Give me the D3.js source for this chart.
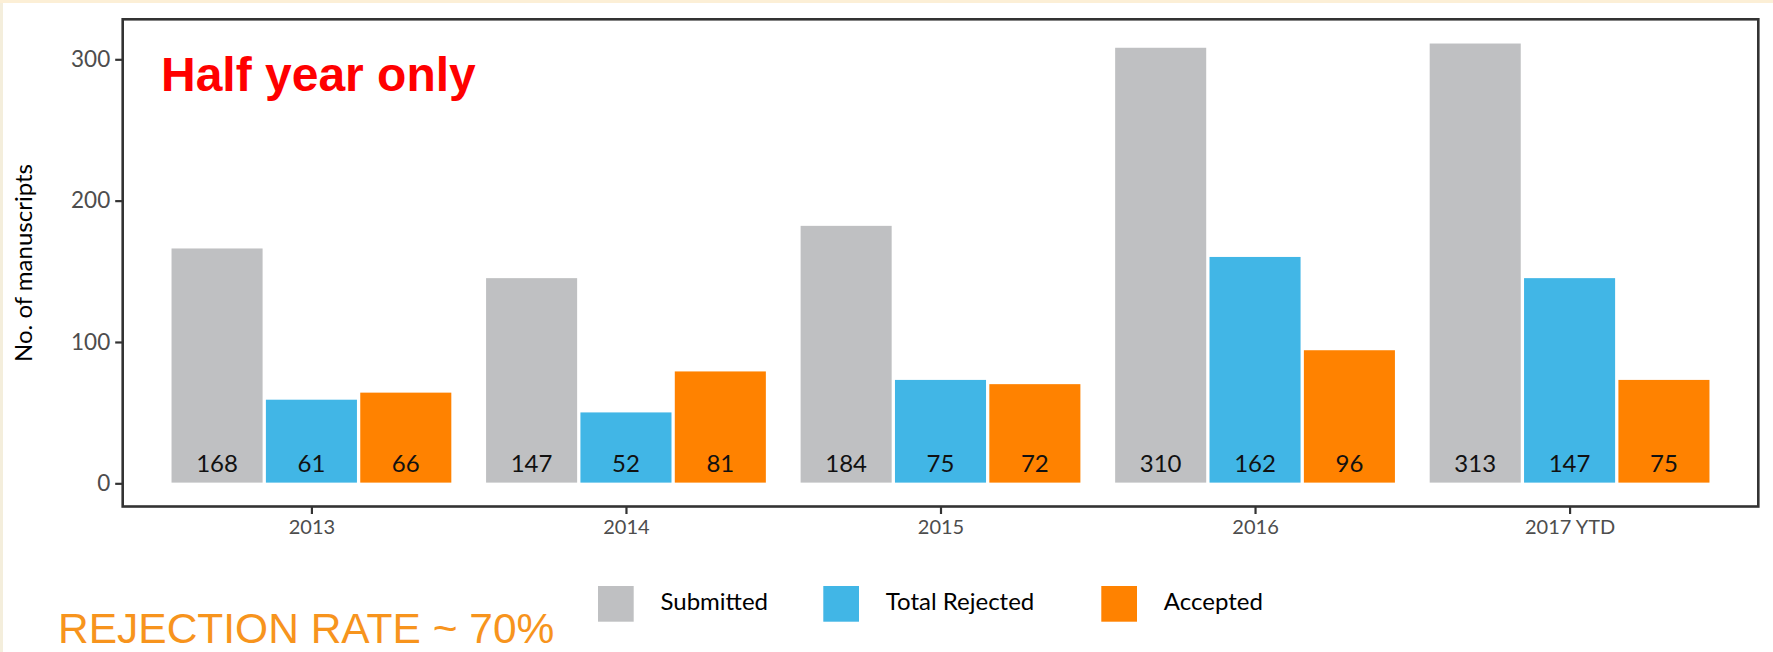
<!DOCTYPE html>
<html>
<head>
<meta charset="utf-8">
<script src="https://cdn.jsdelivr.net/npm/d3@7"></script>
<style>
  html, body { margin: 0; padding: 0; background: #FCEFD6; }
  svg { display: block; }
</style>
</head>
<body>
<svg id="chart" width="1773" height="652"></svg>
<script>
// ---- data ----
const categories = ["2013", "2014", "2015", "2016", "2017 YTD"];
const seriesNames = ["Submitted", "Total Rejected", "Accepted"];
const submitted = [168, 147, 184, 310, 313];
const rejected = [61, 52, 75, 162, 147];
const accepted = [66, 81, 72, 96, 75];
const yTicks = [0, 100, 200, 300];
const seriesColors = ["#BFC0C2", "#41B6E6", "#FF8200"];
const yTitle = "No. of manuscripts";
const noteText = "Half year only";
const rateText = "REJECTION RATE ~ 70%";

const seriesValues = [submitted, rejected, accepted];

const svg = d3.select("#chart");

// cream border (top and left) with white panel
svg.append("rect").attr("x", 0).attr("y", 0).attr("width", 1773).attr("height", 652).attr("fill", "#F4EEDC");
svg.append("rect").attr("x", 0).attr("y", 0).attr("width", 1773).attr("height", 3).attr("fill", "#FCEFD6");
svg.append("rect").attr("x", 3).attr("y", 3).attr("width", 1770).attr("height", 649).attr("fill", "#FFFFFF");

const plot = { left: 122.7, right: 1758.3, top: 19.3, bottom: 506.5 };

const x = d3.scalePoint()
  .domain(categories)
  .range([plot.left, plot.right])
  .padding(0.6);

const step = x.step();
const xs = d3.scaleBand()
  .domain(seriesNames)
  .range([-0.45 * step, 0.45 * step])
  .padding(0);

const y = d3.scaleLinear()
  .domain([-16.4, 328.3])
  .range([plot.bottom, plot.top]);

// bars
const rows = [];
categories.forEach((c, i) => {
  seriesNames.forEach((s, j) => {
    rows.push({ cat: c, series: s, value: seriesValues[j][i], color: seriesColors[j] });
  });
});

// white outline around each bar (as in the reference) trims the edges
const insetX = 1.65, insetTop = 2.6, insetBottom = 0.7;
const g = svg.append("g");
g.selectAll("rect.bar")
  .data(rows)
  .enter().append("rect")
  .attr("class", "bar")
  .attr("x", d => x(d.cat) + xs(d.series) + insetX)
  .attr("width", xs.bandwidth() - 2 * insetX)
  .attr("y", d => y(d.value) + insetTop)
  .attr("height", d => y(0) - y(d.value) - insetTop - insetBottom)
  .attr("fill", d => d.color);

g.selectAll("text.val")
  .data(rows)
  .enter().append("text")
  .attr("class", "val")
  .attr("x", d => x(d.cat) + xs(d.series) + xs.bandwidth() / 2)
  .attr("y", y(0) - 11)
  .attr("text-anchor", "middle")
  .attr("font-family", "Lato, 'Open Sans', sans-serif")
  .attr("font-size", 24)
  .attr("fill", "#111")
  .text(d => d.value);

// frame
svg.append("rect")
  .attr("x", plot.left).attr("y", plot.top)
  .attr("width", plot.right - plot.left)
  .attr("height", plot.bottom - plot.top)
  .attr("fill", "none")
  .attr("stroke", "#333")
  .attr("stroke-width", 2.6);

// y axis
const yAxis = d3.axisLeft(y).tickValues(yTicks).tickSize(7.5).tickPadding(5);
const ya = svg.append("g").attr("transform", `translate(${plot.left},0)`).call(yAxis);
ya.select(".domain").remove();
ya.selectAll(".tick line").attr("stroke", "#333").attr("stroke-width", 2.2);
ya.selectAll(".tick text")
  .attr("font-family", "Lato, 'Open Sans', sans-serif")
  .attr("font-size", 22.5)
  .attr("fill", "#4D4D4D");

// x axis
const xAxis = d3.axisBottom(x).tickSize(7.5).tickPadding(6);
const xa = svg.append("g").attr("transform", `translate(0,${plot.bottom})`).call(xAxis);
xa.select(".domain").remove();
xa.selectAll(".tick line").attr("stroke", "#333").attr("stroke-width", 2.2);
xa.selectAll(".tick text")
  .attr("font-family", "Lato, 'Open Sans', sans-serif")
  .attr("font-size", 20)
  .attr("fill", "#4D4D4D");

// y title
svg.append("text")
  .attr("transform", "translate(32,263) rotate(-90)")
  .attr("text-anchor", "middle")
  .attr("font-family", "Lato, 'Open Sans', sans-serif")
  .attr("font-size", 24)
  .attr("fill", "#000")
  .text(yTitle);

// note
svg.append("text")
  .attr("x", 161)
  .attr("y", 91)
  .attr("font-family", "'Liberation Sans', Arial, sans-serif")
  .attr("font-weight", "bold")
  .attr("font-size", 48)
  .attr("fill", "#FF0000")
  .text(noteText);

// legend
const legendX = [598, 823.3, 1101.3];
const lg = svg.append("g");
seriesNames.forEach((s, j) => {
  lg.append("rect")
    .attr("x", legendX[j]).attr("y", 586)
    .attr("width", 35.7).attr("height", 35.7)
    .attr("fill", seriesColors[j]);
  lg.append("text")
    .attr("x", legendX[j] + 62.5)
    .attr("y", 610)
    .attr("font-family", "Lato, 'Open Sans', sans-serif")
    .attr("font-size", 24)
    .attr("fill", "#000")
    .text(s);
});

// rejection rate text
svg.append("text")
  .attr("x", 58)
  .attr("y", 642.7)
  .attr("font-family", "'Liberation Sans', Arial, sans-serif")
  .attr("font-size", 42.5)
  .attr("fill", "#F7941D")
  .text(rateText);
</script>
</body>
</html>
